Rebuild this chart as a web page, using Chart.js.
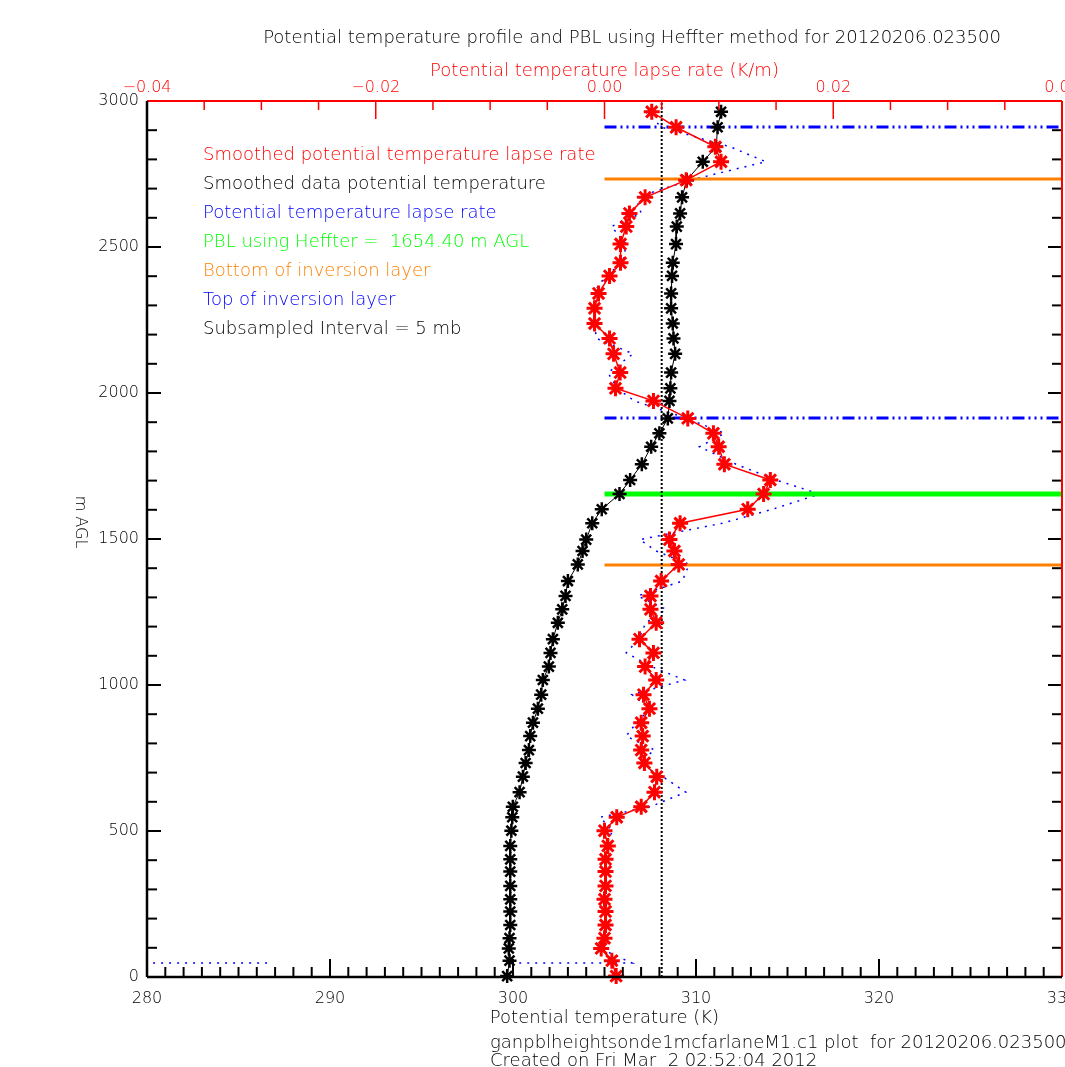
<!DOCTYPE html>
<html>
<head>
<meta charset="utf-8">
<script src="https://cdn.jsdelivr.net/npm/chart.js@4.4.0/dist/chart.umd.min.js"></script>
<style>
  html, body { margin: 0; padding: 0; background: #fff; overflow: hidden; width: 1065px; height: 1067px; }
</style>
</head>
<body>
<canvas id="chart" width="1073" height="1067"></canvas>
<script>
// heights of the subsampled levels (m AGL)
const heights = [2963, 2910, 2843, 2792, 2729, 2670, 2615, 2570, 2510, 2446,
  2401, 2341, 2290, 2238, 2187, 2134, 2070, 2016, 1973, 1913,
  1862, 1816, 1756, 1702, 1654, 1602, 1554, 1498, 1459, 1413,
  1356, 1305, 1259, 1213, 1157, 1110, 1063, 1017, 967, 919,
  871, 825, 777, 733, 686, 633, 583, 547, 501, 449,
  403, 361, 312, 266, 224, 178, 133, 98, 56, 3];

// smoothed potential temperature lapse rate (K/m), top axis
const smoothedLapse = [0.00413, 0.00626, 0.00969, 0.01019, 0.00714, 0.00355, 0.00218, 0.00190, 0.00140, 0.00140,
  0.00044, -0.00052, -0.00087, -0.00087, 0.00044, 0.00079, 0.00137, 0.00096, 0.00428, 0.00728,
  0.00952, 0.00998, 0.01048, 0.01450, 0.01391, 0.01252, 0.00661, 0.00568, 0.00611, 0.00649,
  0.00495, 0.00402, 0.00402, 0.00452, 0.00306, 0.00428, 0.00355, 0.00452, 0.00341, 0.00393,
  0.00321, 0.00334, 0.00321, 0.00349, 0.00457, 0.00437, 0.00321, 0.00107, 0.00000, 0.00029,
  0.00009, 0.00009, 0.00009, 0.00000, 0.00009, 0.00009, 0.00000, -0.00029, 0.00064, 0.00102];

// smoothed potential temperature (K), bottom axis
const smoothedTheta = [311.37, 311.18, 311.10, 310.37, 309.49, 309.24, 309.13, 308.95, 308.91, 308.73,
  308.69, 308.64, 308.64, 308.73, 308.77, 308.86, 308.64, 308.60, 308.55, 308.46,
  308.00, 307.55, 307.04, 306.40, 305.82, 304.85, 304.33, 304.00, 303.80, 303.54,
  303.00, 302.87, 302.69, 302.45, 302.18, 302.05, 301.96, 301.63, 301.54, 301.36,
  301.09, 300.94, 300.87, 300.69, 300.54, 300.36, 299.99, 299.96, 299.91, 299.85,
  299.85, 299.85, 299.85, 299.85, 299.85, 299.85, 299.81, 299.77, 299.81, 299.68];

// raw lapse rate (blue dotted)
const rawHeights = [2963, 2910, 2843, 2792, 2729, 2670, 2615, 2570, 2510, 2446,
  2401, 2341, 2290, 2238, 2187, 2134, 2070, 2016, 1973, 1913,
  1862, 1816, 1756, 1702, 1654, 1602, 1554, 1498, 1459, 1413,
  1356, 1305, 1259, 1213, 1157, 1110, 1063, 1017, 967, 919,
  871, 825, 777, 733, 686, 633, 583, 547, 501, 449,
  403, 361, 312, 266, 224, 178, 133, 98, 48, 48, 48, 48, 48];
const rawLapse = [0.0036, 0.0050, 0.0110, 0.0141, 0.0075, 0.0028, 0.0032, 0.0006, 0.0019, 0.0016,
  0.0001, -0.0010, -0.0007, -0.0009, -0.0007, 0.0025, 0.0003, 0.0011, 0.0026, 0.0072,
  0.0105, 0.0083, 0.0115, 0.0150, 0.0188, 0.0147, 0.0103, 0.0031, 0.0045, 0.0074,
  0.0068, 0.0029, 0.0054, 0.0036, 0.0030, 0.0019, 0.0041, 0.0070, 0.0024, 0.0040,
  0.0028, 0.0019, 0.0044, 0.0029, 0.0051, 0.0071, 0.0040, -0.0004, 0.0007, 0.0001,
  0.0001, 0.0002, 0.0000, 0.0001, 0.0002, 0.0001, 0.0000, -0.0004, 0.0024, -0.0083, null, -0.0295, -0.0450];

const pblHeight = 1654.40;
const inversionBottoms = [1411, 2733];
const inversionTops = [1914, 2911];
const lapseThreshold = 0.005;

const thetaTicks = [280, 330];
const lapseTicks = [-0.04, 0.04];
const heightTicks = [0, 3000];

const legendLines = [
  ['Smoothed potential temperature lapse rate', '#ff0000'],
  ['Smoothed data potential temperature', '#000000'],
  ['Potential temperature lapse rate', '#0000ff'],
  ['PBL using Heffter =  ' + pblHeight.toFixed(2) + ' m AGL', '#00ff00'],
  ['Bottom of inversion layer', '#ff8000'],
  ['Top of inversion layer', '#0000ff'],
  ['Subsampled Interval = 5 mb', '#000000']
];

const FONT = 'DejaVu Sans';
const tickFont = { family: FONT, size: 16, weight: 200 };
const textFont = { family: FONT, size: 18, weight: 200 };

function hline(h, color, width, dash) {
  return {
    data: [{ x: 0, y: h }, { x: lapseTicks[1], y: h }],
    xAxisID: 'xTop', showLine: true, pointRadius: 0,
    borderColor: color, borderWidth: width, borderDash: dash || [], order: 5
  };
}

const datasets = [
  {
    data: rawHeights.map((h, i) => ({ x: rawLapse[i], y: h })),
    xAxisID: 'xTop', showLine: true, pointRadius: 0, spanGaps: false,
    borderColor: '#0000ff', borderWidth: 1.5, borderDash: [2, 6], order: 9
  },
  ...inversionBottoms.map(h => hline(h, '#ff8000', 3)),
  ...inversionTops.map(h => hline(h, '#0000ff', 3, [12, 4, 2, 4, 2, 4, 2, 4])),
  hline(pblHeight, '#00ff00', 5),
  {
    data: [{ x: lapseThreshold, y: heightTicks[0] }, { x: lapseThreshold, y: heightTicks[1] }],
    xAxisID: 'xTop', showLine: true, pointRadius: 0,
    borderColor: '#000', borderWidth: 2, borderDash: [2, 2], order: 4
  },
  {
    data: heights.map((h, i) => ({ x: smoothedTheta[i], y: h })),
    xAxisID: 'x', showLine: true, clip: false,
    borderColor: '#000', borderWidth: 1,
    pointStyle: 'star', pointRadius: 7, pointBorderWidth: 2.5,
    pointBorderColor: '#000', pointBackgroundColor: '#000', order: 2
  },
  {
    data: heights.map((h, i) => ({ x: smoothedLapse[i], y: h })),
    xAxisID: 'xTop', showLine: true, clip: false,
    borderColor: '#ff0000', borderWidth: 1.5,
    pointStyle: 'star', pointRadius: 8, pointBorderWidth: 3,
    pointBorderColor: '#ff0000', pointBackgroundColor: '#ff0000', order: 1
  }
];

// frame, inward ticks and free text
const decor = {
  id: 'decor',
  afterDatasetsDraw(chart) {
    const { ctx, chartArea: a, scales } = chart;
    const seg = (x1, y1, x2, y2) => { ctx.beginPath(); ctx.moveTo(x1, y1); ctx.lineTo(x2, y2); ctx.stroke(); };
    ctx.save();
    ctx.lineWidth = 2;
    ctx.strokeStyle = '#000';
    for (let t = thetaTicks[0]; t <= thetaTicks[1]; t++) {
      const x = scales.x.getPixelForValue(t);
      seg(x, a.bottom, x, a.bottom - (t % 10 === 0 ? 18 : 10));
    }
    for (let h = heightTicks[0]; h <= heightTicks[1]; h += 100) {
      const y = scales.y.getPixelForValue(h);
      const len = h % 500 === 0 ? 14 : 10;
      seg(a.left, y, a.left + len, y);
      seg(a.right, y, a.right - len, y);
    }
    ctx.strokeStyle = '#ff0000';
    ctx.lineWidth = 1.5;
    for (let i = -8; i <= 8; i++) {
      const x = scales.xTop.getPixelForValue(i * 0.005);
      seg(x, a.top, x, a.top + (i % 4 === 0 ? 18 : 9));
    }
    ctx.lineWidth = 2;
    seg(a.left, a.top, a.right, a.top);
    seg(a.right, a.top, a.right, a.bottom);
    ctx.strokeStyle = '#000';
    ctx.lineWidth = 2.5;
    seg(a.left, a.top, a.left, a.bottom);
    seg(a.left, a.bottom, a.right, a.bottom);

    ctx.font = '200 18px ' + FONT;
    ctx.textBaseline = 'middle';
    ctx.fillStyle = '#000';
    ctx.textAlign = 'center';
    ctx.fillText('Potential temperature profile and PBL using Heffter method for 20120206.023500', 632, 38);
    ctx.textAlign = 'left';
    legendLines.forEach(([txt, col], i) => {
      ctx.fillStyle = col;
      ctx.fillText(txt, 203, 155 + i * 29);
    });
    ctx.fillStyle = '#000';
    ctx.fillText('ganpblheightsonde1mcfarlaneM1.c1 plot  for 20120206.023500', 490, 1043);
    ctx.fillText('Created on Fri Mar  2 02:52:04 2012', 490, 1061);
    ctx.translate(80, 522);
    ctx.rotate(Math.PI / 2);
    ctx.textAlign = 'center';
    ctx.font = '200 16px ' + FONT;
    ctx.fillText('m AGL', 0, 0);
    ctx.restore();
  }
};

const noPad = s => { s.paddingLeft = 0; s.paddingRight = 0; s.paddingTop = 0; s.paddingBottom = 0; };

new Chart(document.getElementById('chart'), {
  type: 'scatter',
  data: { datasets },
  plugins: [decor],
  options: {
    responsive: false,
    animation: false,
    devicePixelRatio: 1,
    layout: { padding: { left: 0, right: 2, top: 60, bottom: 38 } },
    plugins: { legend: { display: false }, tooltip: { enabled: false } },
    scales: {
      x: {
        type: 'linear', position: 'bottom', min: thetaTicks[0], max: thetaTicks[1],
        ticks: { stepSize: 10, color: '#000', font: tickFont, padding: 12, maxRotation: 0, autoSkip: false, callback: v => String(v) },
        grid: { display: false, drawTicks: false }, border: { display: false },
        title: { display: true, text: 'Potential temperature (K)', color: '#000', font: textFont, padding: { top: 0, bottom: 0 } },
        afterFit: s => { s.height = 52; noPad(s); }
      },
      xTop: {
        type: 'linear', position: 'top', min: lapseTicks[0], max: lapseTicks[1],
        ticks: {
          stepSize: 0.02, color: '#ff0000', font: tickFont, padding: 4, maxRotation: 0, autoSkip: false,
          callback: v => (v < -1e-9 ? '\u2212' : '') + Math.abs(v).toFixed(2)
        },
        grid: { display: false, drawTicks: false }, border: { display: false },
        title: { display: true, text: 'Potential temperature lapse rate (K/m)', color: '#ff0000', font: textFont, padding: { top: 1, bottom: 0 } },
        afterFit: s => { s.height = 41; noPad(s); }
      },
      y: {
        type: 'linear', position: 'left', min: heightTicks[0], max: heightTicks[1],
        ticks: { stepSize: 500, color: '#000', font: tickFont, padding: 8, callback: v => String(v) },
        grid: { display: false, drawTicks: false }, border: { display: false },
        afterFit: s => { s.width = 147; noPad(s); }
      }
    }
  }
});
</script>
</body>
</html>
